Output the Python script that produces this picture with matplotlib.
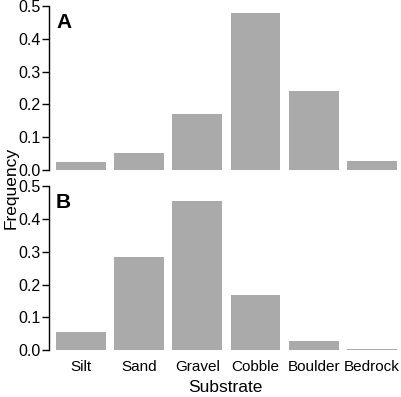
#!/usr/bin/env python3

import matplotlib
matplotlib.use('Agg')
from matplotlib import pyplot as plt
import numpy as np

substrates = ['Silt', 'Sand', 'Gravel', 'Cobble', 'Boulder', 'Bedrock']
freq_a = [0.024, 0.052, 0.172, 0.480, 0.241, 0.027]
freq_b = [0.055, 0.283, 0.457, 0.169, 0.027, 0.002]
yticks = [0.0, 0.1, 0.2, 0.3, 0.4, 0.5]

plt.rcParams['font.family'] = ['Liberation Sans', 'DejaVu Sans']

W, H = 401, 397
fig = plt.figure(figsize=(W / 100, H / 100), dpi=100)


def panel(rect, values, letter, show_labels):
    ax = fig.add_axes(rect)
    x = np.arange(len(values))
    ax.bar(x, values, width=0.855, color='#aaaaaa', edgecolor='none')
    ax.set_xlim(-0.548, 5.5)
    ax.set_ylim(0, 0.5)
    ax.set_yticks(yticks)
    ax.set_yticklabels([f'{t:.1f}' for t in yticks])
    for side in ('top', 'right', 'bottom'):
        ax.spines[side].set_visible(False)
    ax.spines['left'].set_linewidth(1.0)
    ax.tick_params(axis='y', length=5, width=1.0, pad=1, labelsize=11.5)
    ax.set_xticks(x)
    if show_labels:
        ax.set_xticklabels(substrates)
        ax.tick_params(axis='x', length=0, pad=7, labelsize=11)
    else:
        ax.set_xticklabels([])
        ax.tick_params(axis='x', length=0)
    ax.text(0.02, 0.96, letter, transform=ax.transAxes, fontsize=15,
            fontweight='bold', va='top', ha='left')
    return ax


ax_a = panel([49 / W, 227 / H, (W - 49) / W, 164 / H], freq_a, 'A', False)
ax_b = panel([49 / W, 47 / H, (W - 49) / W, 163.5 / H], freq_b, 'B', True)

fig.text(225 / W, 1 - 388 / H, 'Substrate', ha='center', va='center',
         fontsize=12.5)
fig.text(11 / W, 1 - 188 / H, 'Frequency', ha='center', va='center',
         rotation=90, fontsize=12.5)

plt.savefig('out.png', dpi=100)
